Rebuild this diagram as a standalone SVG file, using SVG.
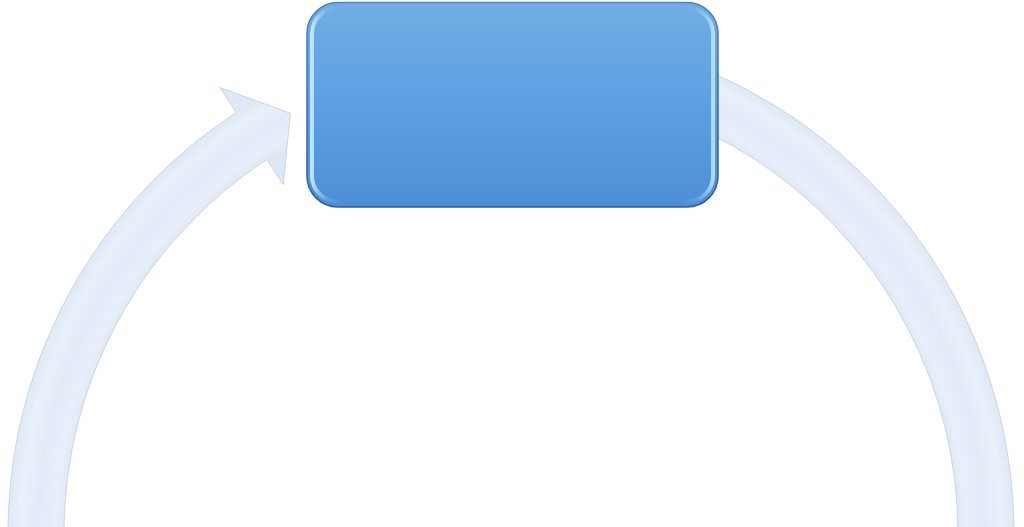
<svg xmlns="http://www.w3.org/2000/svg" width="1024" height="527" viewBox="0 0 1024 527">
  <defs>
    <radialGradient id="bandGrad" gradientUnits="userSpaceOnUse" cx="511" cy="534" r="503">
      <stop offset="0.885" stop-color="#dde7f6"/>
      <stop offset="0.905" stop-color="#e8effa"/>
      <stop offset="0.94" stop-color="#e3ebf8"/>
      <stop offset="0.975" stop-color="#e9f0fa"/>
      <stop offset="1" stop-color="#dfe8f6"/>
    </radialGradient>
    <linearGradient id="boxGrad" x1="0" y1="0" x2="0" y2="1">
      <stop offset="0" stop-color="#72ace3"/>
      <stop offset="0.5" stop-color="#5ca0e3"/>
      <stop offset="1" stop-color="#4c8fd5"/>
    </linearGradient>
    <linearGradient id="bevelGrad" x1="0" y1="0" x2="1" y2="0">
      <stop offset="0" stop-color="#c4e8ff" stop-opacity="0.95"/>
      <stop offset="0.04" stop-color="#8ec6f3" stop-opacity="0.25"/>
      <stop offset="0.08" stop-color="#7ab7ea" stop-opacity="0"/>
      <stop offset="0.92" stop-color="#7ab7ea" stop-opacity="0"/>
      <stop offset="0.96" stop-color="#8ec6f3" stop-opacity="0.25"/>
      <stop offset="1" stop-color="#b4e2fb" stop-opacity="0.95"/>
    </linearGradient>
    <linearGradient id="rimGrad" x1="0" y1="0" x2="0" y2="1">
      <stop offset="0" stop-color="#5583b8"/>
      <stop offset="1" stop-color="#2f5f95"/>
    </linearGradient>
    <style>
      .band { fill: url(#bandGrad); stroke: #c6cdd7; stroke-width: 0.8; stroke-linejoin: miter; }
      .box { fill: url(#boxGrad); stroke: url(#rimGrad); stroke-width: 1.6; }
      .bevel { fill: none; stroke: url(#bevelGrad); stroke-width: 4; }
    </style>
  </defs>

  <rect x="0" y="0" width="1024" height="527" fill="#ffffff"/>

  <g id="connectors">
    <path class="band" d="M 236.3 112.6 A 503 503 0 1 0 598.3 38.6 L 588.6 93.8 A 447 447 0 1 1 266.9 159.5 L 283.3 184.7 L 290.4 113.3 L 219.9 87.5 Z"/>
  </g>

  <g id="node-1">
    <rect class="box" x="307" y="2.5" width="411" height="204.5" rx="31" ry="31"/>
    <rect class="bevel" x="312" y="8" width="401" height="193.5" rx="26" ry="26"/>
  </g>
</svg>
